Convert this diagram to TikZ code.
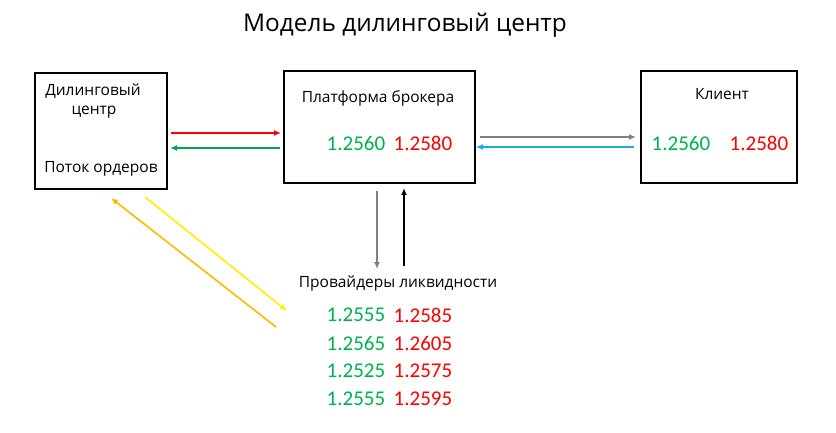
\documentclass[tikz,border=0pt]{standalone}
\usepackage{fontspec}
\setmainfont{Open Sans}
\newfontfamily\numfont{Carlito}
\usetikzlibrary{arrows.meta}
\definecolor{numgreen}{RGB}{0,176,80}
\definecolor{numred}{RGB}{255,0,0}
\definecolor{arrgreen}{RGB}{0,166,80}
\definecolor{arrgray}{RGB}{128,128,128}
\definecolor{arrblue}{RGB}{30,170,225}
\definecolor{arryellow}{RGB}{255,240,0}
\definecolor{arrorange}{RGB}{255,185,0}
\tikzset{
  x=1pt, y=-1pt,
  box/.style={draw=black, line width=2pt, inner sep=0pt},
  lbl/.style={inner sep=0pt, font=\fontsize{15.5}{18}\selectfont, anchor=center},
  num/.style={inner sep=0pt, font=\numfont\fontsize{21}{24}\selectfont, anchor=center},
  conn/.style={line width=1.6pt, -{Latex[length=7pt,width=6pt]}},
}
\begin{document}
\begin{tikzpicture}
\useasboundingbox (0,0) rectangle (836,433);
% title
\node[inner sep=0pt, font=\fontsize{24.4}{28}\selectfont] (title) at (405,25) {Модель дилинговый центр};
% boxes
\draw[box] (35,73) rectangle (167,189);
\draw[box] (284,71) rectangle (475,183);
\draw[box] (641,71) rectangle (797,183);
% left box texts
\node[lbl] (dc1) at (93,91) {Дилинговый};
\node[lbl] (dc2) at (94,112) {центр};
\node[lbl] (flow) at (101,169) {Поток ордеров};
% platform
\node[lbl] (plat) at (378,98) {Платформа брокера};
\node[num, text=numgreen] (pb) at (356,143) {1.2560};
\node[num, text=numred] (pa) at (423,143) {1.2580};
% client
\node[lbl] (cl) at (722,94) {Клиент};
\node[num, text=numgreen] (cb) at (681,143) {1.2560};
\node[num, text=numred] (ca) at (759,143) {1.2580};
% providers
\node[lbl] (prov) at (398,284) {Провайдеры ликвидности};
\node[num, text=numgreen] (b1) at (356,315) {1.2555};
\node[num, text=numred] (a1) at (423,315) {1.2585};
\node[num, text=numgreen] (b2) at (356,343) {1.2565};
\node[num, text=numred] (a2) at (423,343) {1.2605};
\node[num, text=numgreen] (b3) at (356,371) {1.2525};
\node[num, text=numred] (a3) at (423,371) {1.2575};
\node[num, text=numgreen] (b4) at (356,399) {1.2555};
\node[num, text=numred] (a4) at (423,399) {1.2595};
% connector endpoints
\coordinate (r1) at (171,133); \coordinate (r2) at (281,133);
\coordinate (g1) at (280,148); \coordinate (g2) at (170,148);
\coordinate (h1) at (480,137); \coordinate (h2) at (636,137);
\coordinate (u1) at (634,147); \coordinate (u2) at (476,147);
\coordinate (d1) at (377,191); \coordinate (d2) at (377,269);
\coordinate (k1) at (404,266); \coordinate (k2) at (404,188);
\coordinate (y1) at (145,197); \coordinate (y2) at (287,311);
\coordinate (o1) at (276,327); \coordinate (o2) at (111,198);
% arrows
\draw[conn, red] (r1) -- (r2);
\draw[conn, arrgreen] (g1) -- (g2);
\draw[conn, arrgray] (h1) -- (h2);
\draw[conn, arrblue, line width=1.2pt] (u1) -- (u2);
\draw[conn, arrgray] (d1) -- (d2);
\draw[conn, black] (k1) -- (k2);
\draw[conn, arryellow] (y1) -- (y2);
\draw[conn, arrorange] (o1) -- (o2);
\end{tikzpicture}
\end{document}
